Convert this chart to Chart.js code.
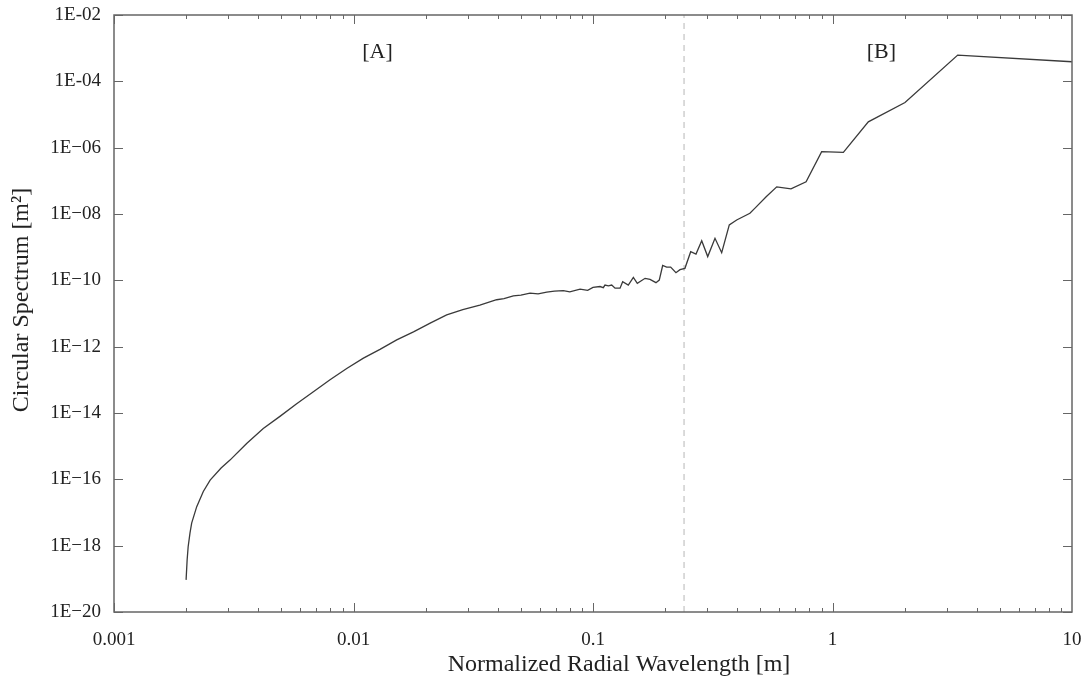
<!DOCTYPE html>
<html>
<head>
<meta charset="utf-8">
<script src="https://cdn.jsdelivr.net/npm/chart.js@4.4.1/dist/chart.umd.min.js"></script>
<style>
  html, body { margin: 0; padding: 0; background: #fff; }
  #wrap { width: 1088px; height: 680px; }
</style>
</head>
<body>
<div id="wrap"><canvas id="spectrumChart"></canvas></div>
<script>
// axis ticks
const xTickValues = [0.001, 0.01, 0.1, 1, 10];
const xTickLabels = ["0.001", "0.01", "0.1", "1", "10"];
const yTickValues = [1e-2, 1e-4, 1e-6, 1e-8, 1e-10, 1e-12, 1e-14, 1e-16, 1e-18, 1e-20];
const yTickLabels = ["1E-02", "1E-04", "1E\u221206", "1E\u221208", "1E\u221210", "1E\u221212",
  "1E\u221214", "1E\u221216", "1E\u221218", "1E\u221220"];

const wavelength = [
  0.0020, 0.00202, 0.00204, 0.002076, 0.00211, 0.002215, 0.00236, 0.00252, 0.0028, 0.00305,
  0.00358, 0.0042, 0.00493, 0.00579, 0.0068, 0.00798, 0.00937, 0.011, 0.0129, 0.01515,
  0.0178, 0.0209, 0.0245, 0.0286, 0.0337, 0.0396, 0.0425, 0.0465, 0.050, 0.0546,
  0.059, 0.0641, 0.069, 0.0752, 0.080, 0.0883, 0.095, 0.100, 0.107, 0.1104,
  0.1122, 0.1159, 0.1197, 0.1236, 0.1297, 0.133, 0.1404, 0.1474, 0.1531, 0.165,
  0.173, 0.1832, 0.1891, 0.1954, 0.203, 0.211, 0.222, 0.2308, 0.242, 0.2558,
  0.2692, 0.2844, 0.3013, 0.3231, 0.3446, 0.3707, 0.398, 0.452, 0.4747, 0.5285,
  0.585, 0.671, 0.7757, 0.901, 1.11, 1.411, 2.008, 3.333, 10
];
const spectrum = [
  9.3e-20, 3.7e-19, 9.3e-19, 2.4e-18, 4.8e-18, 1.5e-17, 4.3e-17, 9.5e-17, 2.2e-16, 3.8e-16,
  1.2e-15, 3.4e-15, 7.9e-15, 1.9e-14, 4.4e-14, 1.0e-13, 2.2e-13, 4.5e-13, 8.3e-13, 1.6e-12,
  2.8e-12, 5.1e-12, 9.1e-12, 1.3e-11, 1.8e-11, 2.6e-11, 2.8e-11, 3.4e-11, 3.6e-11, 4.1e-11,
  3.9e-11, 4.4e-11, 4.7e-11, 4.9e-11, 4.5e-11, 5.4e-11, 5.0e-11, 6.1e-11, 6.5e-11, 6.0e-11,
  7.2e-11, 6.8e-11, 7.2e-11, 5.8e-11, 5.8e-11, 9.1e-11, 7.2e-11, 1.23e-10, 8.1e-11, 1.15e-10,
  1.07e-10, 8.5e-11, 1.02e-10, 2.8e-10, 2.5e-10, 2.5e-10, 1.7e-10, 2.1e-10, 2.3e-10, 7.3e-10,
  6.2e-10, 1.57e-9, 5.2e-10, 1.85e-9, 6.8e-10, 4.7e-9, 6.6e-9, 1.05e-8, 1.5e-8, 3.3e-8,
  6.6e-8, 5.7e-8, 9.4e-8, 7.6e-7, 7.2e-7, 6.0e-6, 2.3e-5, 6.2e-4, 3.9e-4
];

const dividerX = 0.24;
const regionLabels = ["[A]", "[B]"];
const regionLabelX = [0.0126, 1.6];
const regionLabelY = 7.7e-4;

const xTitle = "Normalized Radial Wavelength [m]";
const yTitle = "Circular Spectrum [m\u00b2]";

const SERIF = "'Liberation Serif', 'DejaVu Serif', serif";
const TEXT = "#222";
const FRAME = "#666";

// frame, inward ticks, titles and region labels
const framePlugin = {
  id: "frame",
  afterDraw(chart) {
    const { ctx, chartArea: a, scales } = chart;
    const xs = scales.x, ys = scales.y;
    ctx.save();
    ctx.strokeStyle = FRAME;
    ctx.lineWidth = 1.5;
    ctx.strokeRect(a.left, a.top, a.right - a.left, a.bottom - a.top);

    ctx.lineWidth = 1;
    ctx.beginPath();
    for (let d = -3; d <= 0; d++) {
      for (let m = 1; m <= 9; m++) {
        const px = Math.round(xs.getPixelForValue(m * Math.pow(10, d))) + 0.5;
        const len = m === 1 ? 9 : 4;
        ctx.moveTo(px, a.bottom); ctx.lineTo(px, a.bottom - len);
        ctx.moveTo(px, a.top); ctx.lineTo(px, a.top + len);
      }
    }
    yTickValues.forEach((v) => {
      const py = Math.round(ys.getPixelForValue(v)) + 0.5;
      ctx.moveTo(a.left, py); ctx.lineTo(a.left + 9, py);
      ctx.moveTo(a.right, py); ctx.lineTo(a.right - 9, py);
    });
    ctx.stroke();

    ctx.fillStyle = TEXT;
    ctx.textAlign = "center";
    ctx.textBaseline = "middle";
    ctx.font = "24px " + SERIF;
    ctx.fillText(xTitle, 619, 665);

    ctx.save();
    ctx.translate(22, 300);
    ctx.rotate(-Math.PI / 2);
    ctx.fillText(yTitle, 0, 0);
    ctx.restore();

    ctx.font = "22px " + SERIF;
    regionLabels.forEach((txt, i) => {
      ctx.fillText(txt, xs.getPixelForValue(regionLabelX[i]), ys.getPixelForValue(regionLabelY));
    });
    ctx.restore();
  },
};

function buildChart() {
  const el = document.getElementById("spectrumChart");
  const ctx = el.getContext("2d");
  return new Chart(ctx, {
    type: "line",
    data: {
      datasets: [
        {
          data: wavelength.map((x, i) => ({ x, y: spectrum[i] })),
          borderColor: "#3a3a3a",
          borderWidth: 1.3,
          pointRadius: 0,
          tension: 0,
          fill: false,
        },
        {
          data: [{ x: dividerX, y: 1e-20 }, { x: dividerX, y: 1e-2 }],
          borderColor: "#cfcfcf",
          borderWidth: 1.5,
          borderDash: [6, 5],
          pointRadius: 0,
          fill: false,
        },
      ],
    },
    options: {
      responsive: true,
      maintainAspectRatio: false,
      animation: false,
      layout: { padding: { top: 15, right: 16, left: 0, bottom: 0 } },
      plugins: { legend: { display: false }, tooltip: { enabled: false } },
      scales: {
        x: {
          type: "logarithmic",
          min: 0.001,
          max: 10,
          grid: { display: false, drawTicks: false },
          border: { display: false },
          afterBuildTicks: (s) => { s.ticks = xTickValues.map((v) => ({ value: v })); },
          afterFit: (s) => { s.height = 68; s.paddingLeft = 0; s.paddingRight = 0; },
          ticks: {
            autoSkip: false,
            maxRotation: 0,
            padding: 17,
            color: TEXT,
            font: { family: SERIF, size: 19 },
            callback: (v) => xTickLabels[xTickValues.indexOf(v)] ?? "",
          },
        },
        y: {
          type: "logarithmic",
          min: 1e-20,
          max: 1e-2,
          grid: { display: false, drawTicks: false },
          border: { display: false },
          afterBuildTicks: (s) => { s.ticks = yTickValues.map((v) => ({ value: v })); },
          afterFit: (s) => { s.width = 114; s.paddingTop = 0; s.paddingBottom = 0; },
          ticks: {
            autoSkip: false,
            padding: 13,
            color: TEXT,
            font: { family: SERIF, size: 19 },
            callback: (v) => {
              const i = yTickValues.findIndex((t) => Math.abs(Math.log10(t) - Math.log10(v)) < 1e-6);
              return i >= 0 ? yTickLabels[i] : "";
            },
          },
        },
      },
    },
    plugins: [framePlugin],
  });
}

document.addEventListener("DOMContentLoaded", buildChart);
</script>
</body>
</html>
